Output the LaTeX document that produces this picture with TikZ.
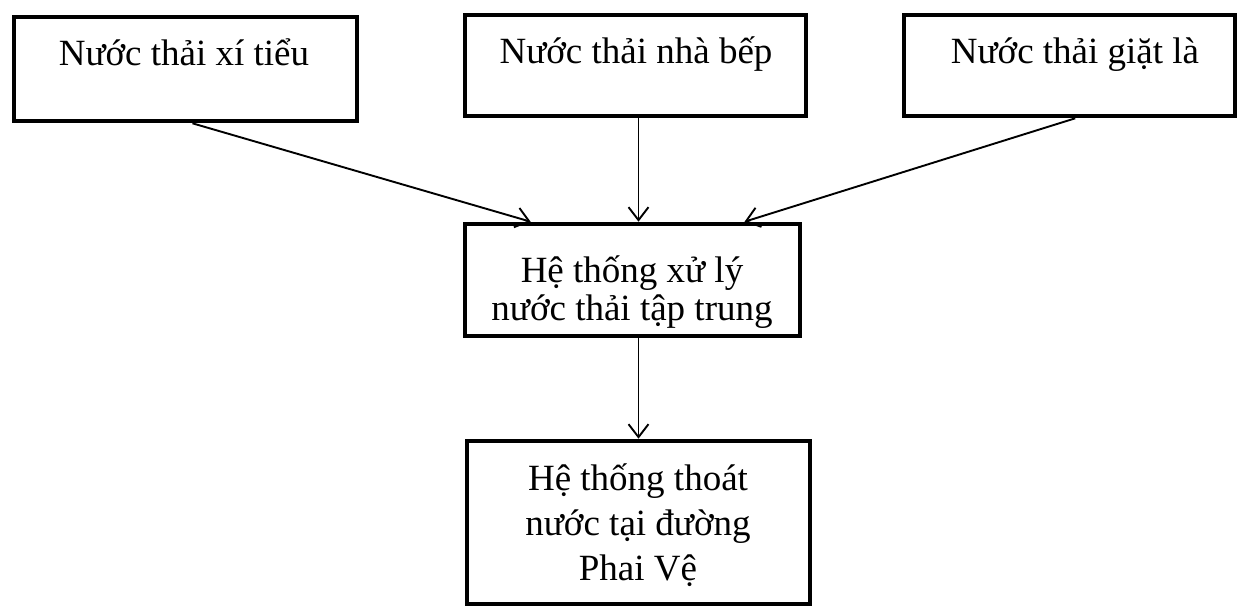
\documentclass[tikz,border=0pt]{standalone}
\usepackage{fontspec}
\setmainfont{Liberation Serif}
\usetikzlibrary{arrows.meta,calc}
\tikzset{
  box/.style={draw, line width=4.6pt, rectangle, inner sep=0pt},
  lbl/.style={inner sep=0pt, anchor=base, font=\fontsize{37}{44}\selectfont},
  arr/.style={line width=1.9pt, -{Straight Barb[length=13pt,width=20pt,line width=1.9pt]}}
}
\begin{document}
\begin{tikzpicture}[x=1pt,y=-1pt]
\useasboundingbox (0,0) rectangle (1237,608);
\node[box, minimum width=343pt, minimum height=104pt] (b1) at (185.5,69) {};
\node[box, minimum width=341pt, minimum height=101pt] (b2) at (635.5,65.5) {};
\node[box, minimum width=331pt, minimum height=101pt] (b3) at (1069.5,65.5) {};
\node[box, minimum width=335pt, minimum height=112pt] (b4) at (632.5,280) {};
\node[box, minimum width=343pt, minimum height=163pt] (b5) at (638.5,522.5) {};
\node[lbl] (t1) at (184,65) {Nước thải xí tiểu};
\node[lbl] (t2) at (636,63) {Nước thải nhà bếp};
\node[lbl] (t3) at (1075,63) {Nước thải giặt là};
\node[lbl] (t4a) at (632,282) {Hệ thống xử lý};
\node[lbl] (t4b) at (632,320) {nước thải tập trung};
\node[lbl] (t5a) at (638,490) {Hệ thống thoát};
\node[lbl] (t5b) at (638,535) {nước tại đường};
\node[lbl] (t5c) at (638,580) {Phai Vệ};
\coordinate (s1) at ($(b1.south west)!0.52!(b1.south east)$);
\coordinate (e1) at ($(b4.north west)!0.2!(b4.north east)$);
\coordinate (s3) at ($(b3.south west)!0.517!(b3.south east)$);
\coordinate (e3) at ($(b4.north west)!0.83!(b4.north east)$);
\draw[arr] (s1) -- (e1);
\draw[arr] (b2.south -| b5.north) -- (b4.north -| b5.north);
\draw[arr] (s3) -- (e3);
\draw[arr] (b4.south -| b5.north) -- (b5.north);
\end{tikzpicture}
\end{document}
